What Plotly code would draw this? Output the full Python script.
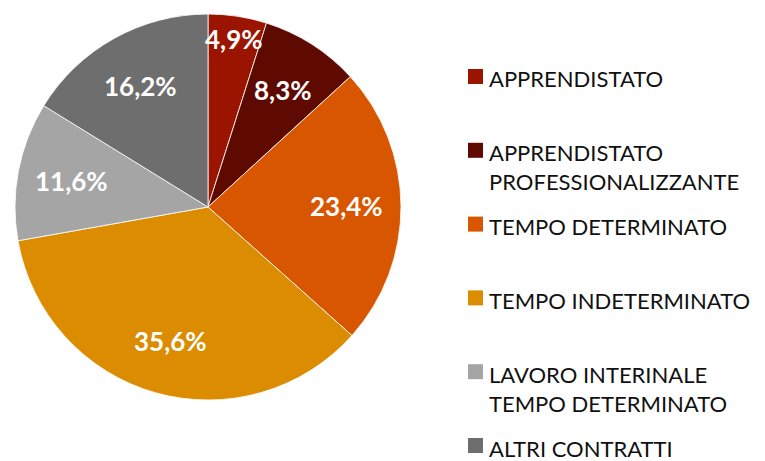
import math
import plotly.graph_objects as go

# ---- data ----
labels = ["APPRENDISTATO", "APPRENDISTATO<br>PROFESSIONALIZZANTE", "TEMPO DETERMINATO",
          "TEMPO INDETERMINATO", "LAVORO INTERINALE<br>TEMPO DETERMINATO", "ALTRI CONTRATTI"]
values = [4.9, 8.3, 23.4, 35.6, 11.6, 16.2]
colors = ["#9B1400", "#5E0A00", "#D95600", "#DB8C00", "#A5A5A5", "#6E6E6E"]

# ---- layout constants (pixels in the 765x461 window) ----
OFF = 8                              # default page body margin
W, H = 765 - OFF, 461 - OFF          # figure size so it fits the window
CX, CY, R = 208, 207, 193            # pie centre and radius
LABEL_R, SMALL_LABEL_R = 0.72, 0.88
LEG_SQ_X0, LEG_SQ_X1, LEG_TXT_X = 468, 483, 487
LEG_TOP, LEG_STEP, LEG_SQ = 76.5, 73.8, 15


def px_x(x):
    return (x - OFF) / W


def px_y(y):
    return 1 - (y - OFF) / H


fig = go.Figure(go.Pie(
    labels=labels,
    values=values,
    sort=False,
    direction="clockwise",
    rotation=0,
    marker=dict(colors=colors, line=dict(color="white", width=0.8)),
    textinfo="none",
    domain=dict(x=[px_x(CX - R), px_x(CX + R)], y=[px_y(CY + R), px_y(CY - R)]),
    hoverinfo="label+percent",
    showlegend=False,
))

annotations = []
shapes = []
total = sum(values)
cum = 0.0
for i, (lab, v, c) in enumerate(zip(labels, values, colors)):
    share = v / total
    mid = (cum + share / 2) * 2 * math.pi
    cum += share
    rf = SMALL_LABEL_R if share < 0.06 else LABEL_R
    lx = CX + rf * R * math.sin(mid)
    ly = CY - rf * R * math.cos(mid)
    annotations.append(dict(
        x=px_x(lx), y=px_y(ly), xref="paper", yref="paper",
        text=(f"{v:.1f}%").replace(".", ","), showarrow=False,
        xanchor="center", yanchor="middle",
        font=dict(family="Lato", size=26, color="white", weight="bold"),
    ))
    # legend entry
    sy = LEG_TOP + i * LEG_STEP
    shapes.append(dict(
        type="rect", xref="paper", yref="paper",
        x0=px_x(LEG_SQ_X0), x1=px_x(LEG_SQ_X1),
        y0=px_y(sy + LEG_SQ / 2), y1=px_y(sy - LEG_SQ / 2),
        fillcolor=c, line=dict(width=0),
    ))
    annotations.append(dict(
        x=px_x(LEG_TXT_X), y=px_y(sy + 2.5 - 15.5), xref="paper", yref="paper",
        text=lab, showarrow=False, xanchor="left", yanchor="top", align="left",
        font=dict(family="Lato", size=22, color="#111111"),
    ))

fig.update_layout(
    width=W, height=H,
    margin=dict(l=0, r=0, t=0, b=0),
    paper_bgcolor="white",
    plot_bgcolor="white",
    showlegend=False,
    annotations=annotations,
    shapes=shapes,
)
fig.write_html("out.html")
